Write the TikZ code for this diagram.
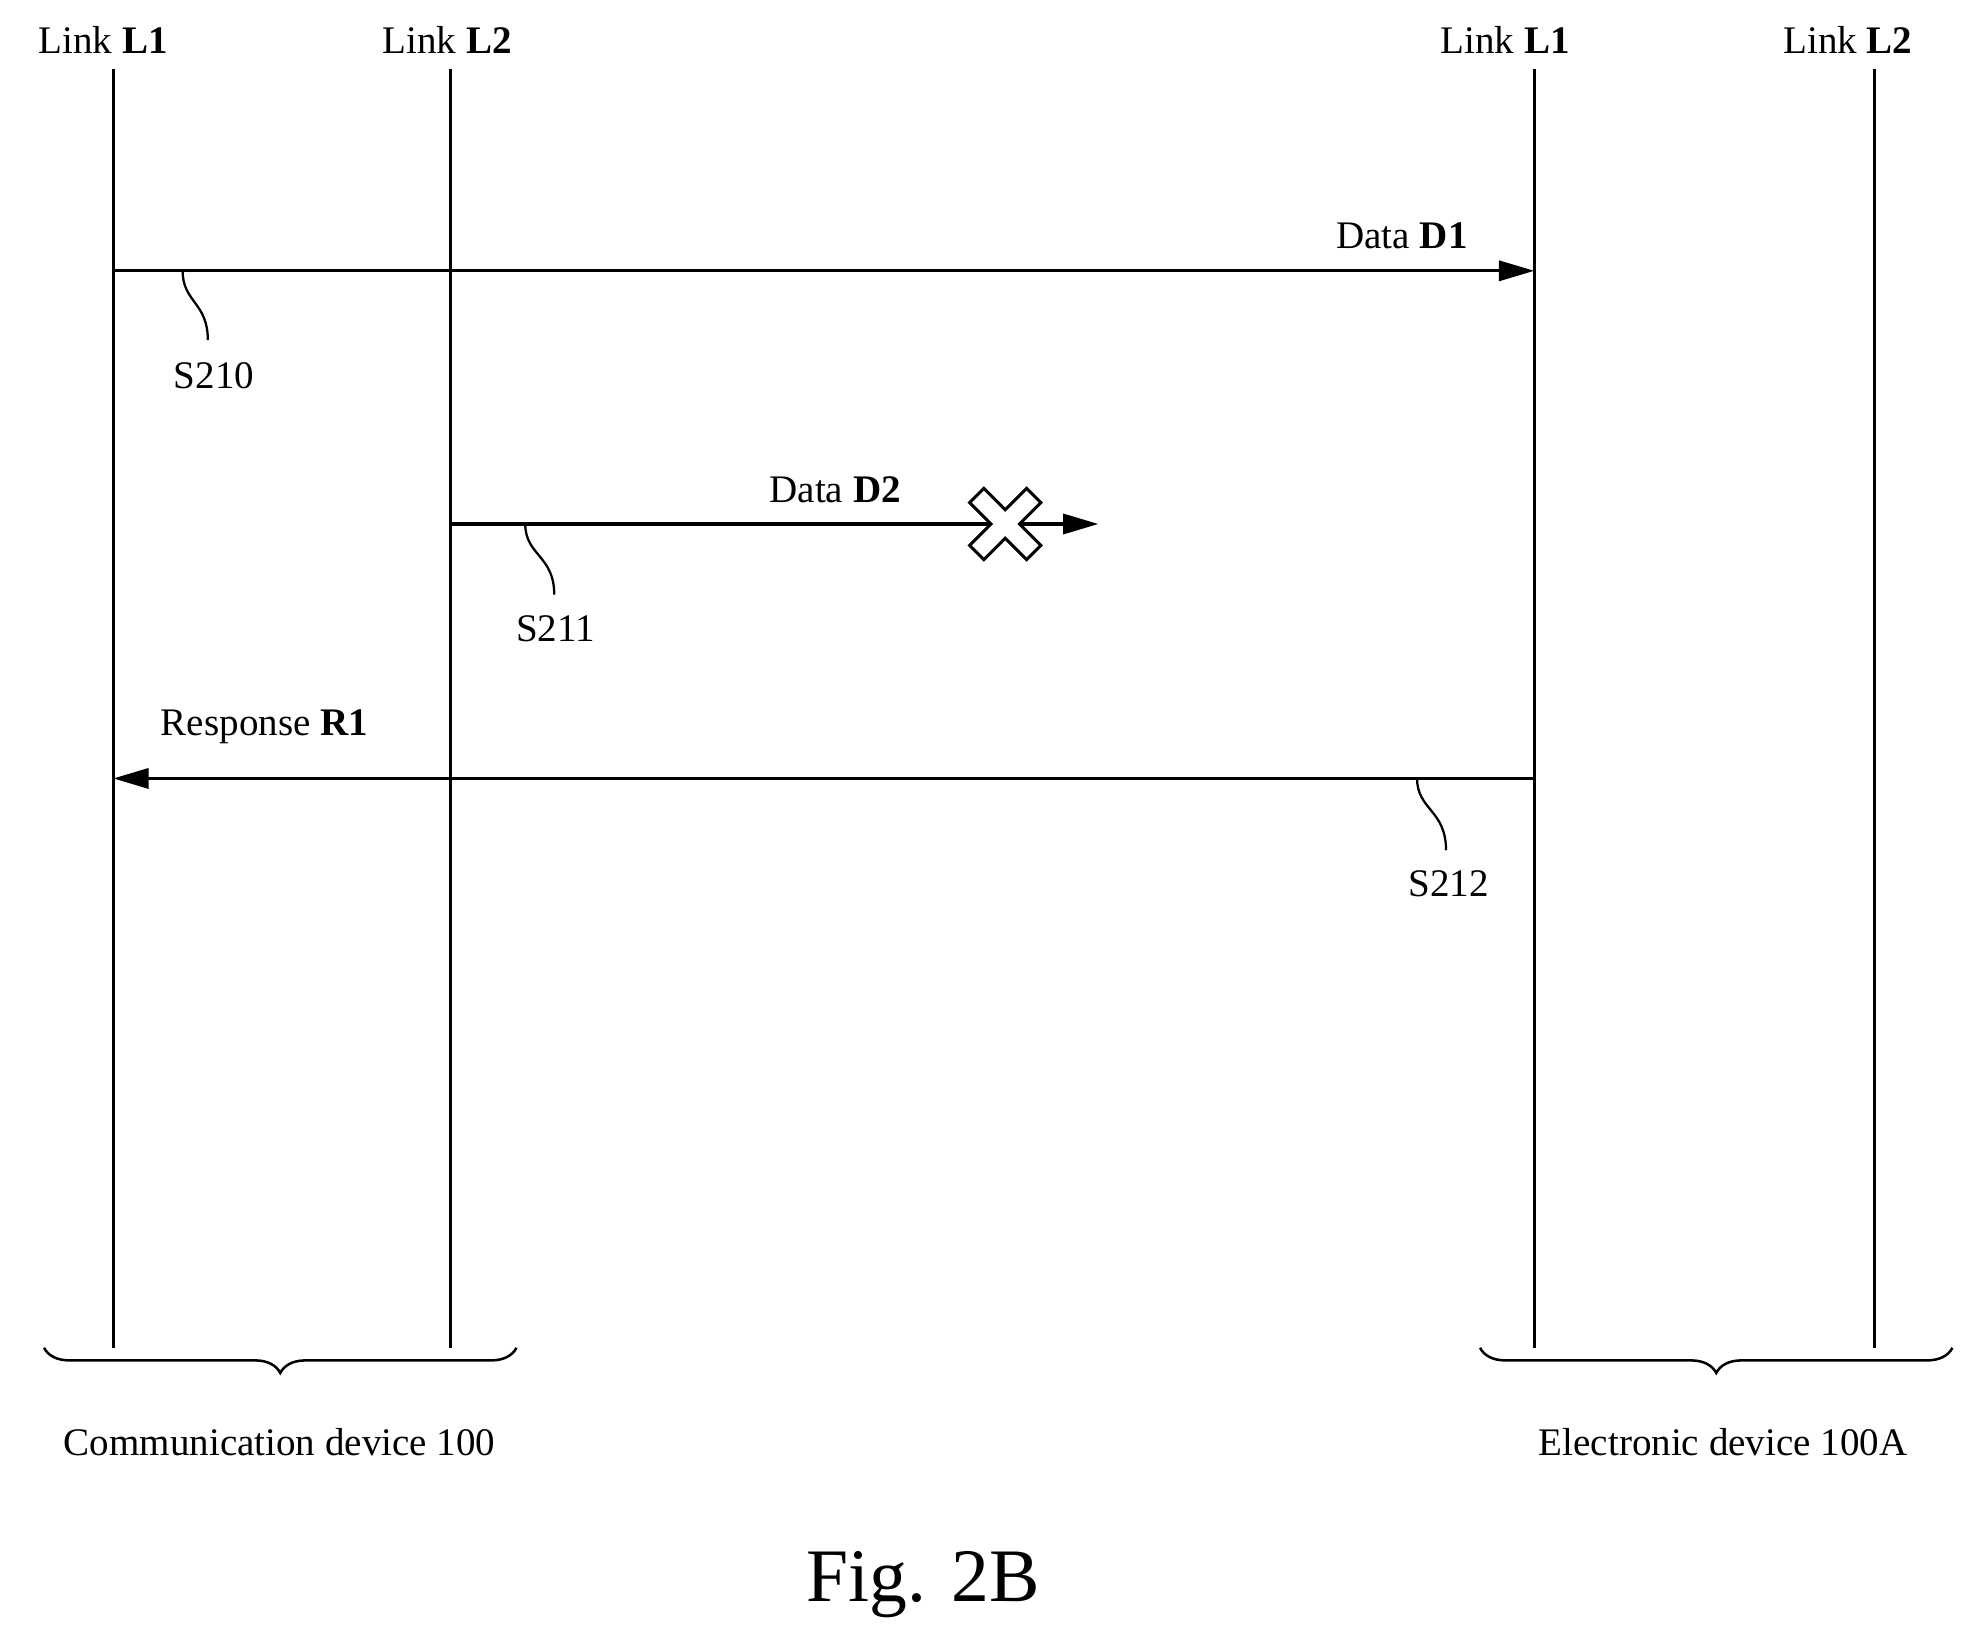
\documentclass[tikz,border=0pt]{standalone}
\usepackage{fontspec}
\setmainfont{Liberation Serif}
\usetikzlibrary{arrows.meta,decorations.pathreplacing}
\begin{document}
\begin{tikzpicture}[x=0.5pt,y=-0.5pt,
 lbl/.style={font=\fontsize{15.5}{18}\selectfont,inner sep=0pt},
 life/.style={line width=1.2pt},
 msg/.style={line width=1.2pt,-{Triangle[length=14pt,width=8pt]}},
 sq/.style={line width=0.9pt},
 br/.style={line width=1pt,decorate,decoration={brace,mirror,amplitude=10pt}}]
\useasboundingbox (0,0) rectangle (1560,1301);
\node[lbl] (h1) at (82,32) {Link \textbf{L1}};
\node[lbl] (h2) at (355,32) {Link \textbf{L2}};
\node[lbl] (h3) at (1195,32) {Link \textbf{L1}};
\node[lbl] (h4) at (1467,32) {Link \textbf{L2}};
\coordinate (a1) at (90,55); \coordinate (b1) at (90,1070);
\coordinate (a2) at (358,55); \coordinate (b2) at (358,1070);
\coordinate (a3) at (1218,55); \coordinate (b3) at (1218,1070);
\coordinate (a4) at (1488,55); \coordinate (b4) at (1488,1070);
\foreach \i in {1,...,4} \draw[life] (a\i) -- (b\i);
% D1
\coordinate (d1s) at (90,215); \coordinate (d1e) at (1218,215);
\draw[msg] (d1s) -- (d1e);
\node[lbl] (dl1) at (1113,187) {Data \textbf{D1}};
\draw[sq] (145,215) .. controls (145,240) and (165,240) .. (165,270);
\node[lbl] (s210) at (170,298) {S210};
% D2
\coordinate (d2s) at (358,416); \coordinate (d2e) at (872,416);
\draw[msg] (d2s) -- (d2e);
\node[lbl] (dl2) at (663,389) {Data \textbf{D2}};
\draw[sq] (417,416) .. controls (417,441) and (440,441) .. (440,472);
\node[lbl] (s211) at (441,499) {S211};
\begin{scope}[shift={(798,416)},rotate=45]
\draw[line width=1.2pt,fill=white] (-8,-32) -- (8,-32) -- (8,-8) -- (32,-8) -- (32,8) -- (8,8) -- (8,32) -- (-8,32) -- (-8,8) -- (-32,8) -- (-32,-8) -- (-8,-8) -- cycle;
\end{scope}
% R1
\coordinate (r1s) at (1218,618); \coordinate (r1e) at (90,618);
\draw[msg] (r1s) -- (r1e);
\node[lbl] (rl1) at (210,577) {Response \textbf{R1}};
\draw[sq] (1125,618) .. controls (1125,643) and (1148,643) .. (1148,675);
\node[lbl] (s212) at (1150,702) {S212};
% braces
\draw[br] (35,1070) -- (410,1070);
\draw[br] (1175,1070) -- (1550,1070);
\node[lbl] (c1) at (222,1145) {Communication device 100};
\node[lbl] (c2) at (1368,1145) {Electronic device 100A};
\node[font=\fontsize{30}{34}\selectfont,inner sep=0pt] (fig) at (733,1258) {Fig. 2B};
\end{tikzpicture}
\end{document}
